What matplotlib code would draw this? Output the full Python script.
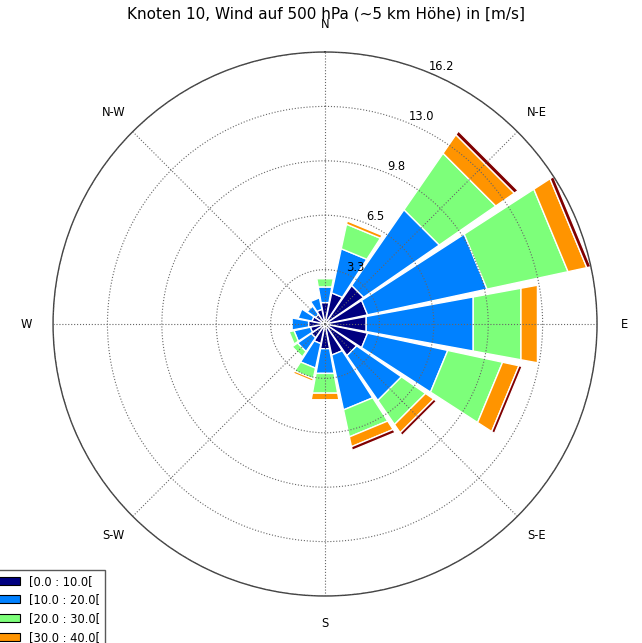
import numpy as np
import matplotlib
matplotlib.use('Agg')
import matplotlib.pyplot as plt
from matplotlib.patches import Rectangle

# 16 wind directions, clockwise from north
directions = ['N', 'NNE', 'NE', 'ENE', 'E', 'ESE', 'SE', 'SSE',
              'S', 'SSW', 'SW', 'WSW', 'W', 'WNW', 'NW', 'NNW']

# frequency (%) per direction for each speed class
speed_0_10 = [1.3, 1.9, 2.8, 2.6, 2.5, 2.6, 2.3, 1.9, 1.5, 1.2, 1.0, 0.9, 1.0, 0.8, 0.7, 0.9]
speed_10_20 = [0.95, 2.7, 5.5, 7.3, 6.5, 4.9, 3.25, 3.35, 1.5, 1.5, 1.0, 1.0, 1.0, 0.85, 0.6, 0.7]
speed_20_30 = [0.5, 1.5, 4.1, 4.95, 2.9, 3.35, 1.75, 1.65, 1.2, 0.65, 0.4, 0.3, 0.0, 0.0, 0.0, 0.0]
speed_30_40 = [0.0, 0.2, 1.35, 1.15, 1.0, 1.0, 0.6, 0.6, 0.4, 0.15, 0.05, 0.0, 0.0, 0.0, 0.0, 0.0]
speed_40_inf = [0.0, 0.0, 0.27, 0.25, 0.0, 0.2, 0.2, 0.22, 0.0, 0.0, 0.0, 0.0, 0.0, 0.0, 0.0, 0.0]

bin_labels = ['[0.0 : 10.0[', '[10.0 : 20.0[', '[20.0 : 30.0[', '[30.0 : 40.0[', '[40.0 : inf[']
compass_labels = ['N', 'N-E', 'E', 'S-E', 'S', 'S-W', 'W', 'N-W']
ring_labels = ['3.3', '6.5', '9.8', '13.0', '16.2']

classes = [speed_0_10, speed_10_20, speed_20_30, speed_30_40, speed_40_inf]
colors = plt.cm.jet(np.linspace(0, 1, len(classes)))

fig = plt.figure(figsize=(6.42, 6.43), dpi=100)
ax = fig.add_axes([0.0826, 0.0731, 0.8474, 0.846], projection='polar')
ax.set_theta_zero_location('N')
ax.set_theta_direction(-1)

theta = np.deg2rad(np.arange(len(directions)) * 360.0 / len(directions))
width = 2 * np.pi / len(directions) * 0.92

# stacked wedges, one speed class on top of the other
# (plain polygons, so the outer edges are straight chords)
bottom = np.zeros(len(directions))
for vals, col in zip(classes, colors):
    for th, b, v in zip(theta, bottom, vals):
        if v <= 0:
            continue
        t0, t1 = th - width / 2, th + width / 2
        ax.fill([t0, t1, t1, t0], [b, b, b + v, b + v],
                facecolor=col, edgecolor='white', linewidth=1)
    bottom += np.array(vals)

rmax = bottom.max()
ax.set_ylim(0, rmax)
ax.set_axisbelow(False)

ax.set_xticks(np.deg2rad(np.arange(0, 360, 45)))
ax.set_xticklabels([])
for ang, lab in zip(np.arange(0, 360, 45), compass_labels):
    ax.text(np.deg2rad(ang), rmax * 1.1, lab, ha='center', va='center',
            fontsize=8.3, clip_on=False)

ax.set_rgrids(np.linspace(0, rmax, 6)[1:], ring_labels, fontsize=8.3)
ax.set_rlabel_position(22.5)
for t in ax.get_yticklabels():
    t.set_ha('left')
    t.set_va('bottom')

ax.grid(True, color='0.4', linestyle=':', linewidth=0.8)
ax.spines['polar'].set_color('0.25')
ax.spines['polar'].set_linewidth(1.0)

fig.text(0.508, 1 - 14 / 643, u'Knoten 10, Wind auf 500 hPa (~5 km H\u00f6he) in [m/s]',
         ha='center', va='center', fontsize=11)

handles = [Rectangle((0, 0), 1, 1, facecolor=c, edgecolor='black', linewidth=0.8)
           for c in colors]
fig.legend(handles, bin_labels, loc='upper right', bbox_to_anchor=(105 / 642, 1 - 570 / 643),
           fontsize=8.3, fancybox=False, edgecolor='0.35', framealpha=1,
           borderaxespad=0, handlelength=2.0, handleheight=0.7)

fig.savefig('out.png', dpi=100)
